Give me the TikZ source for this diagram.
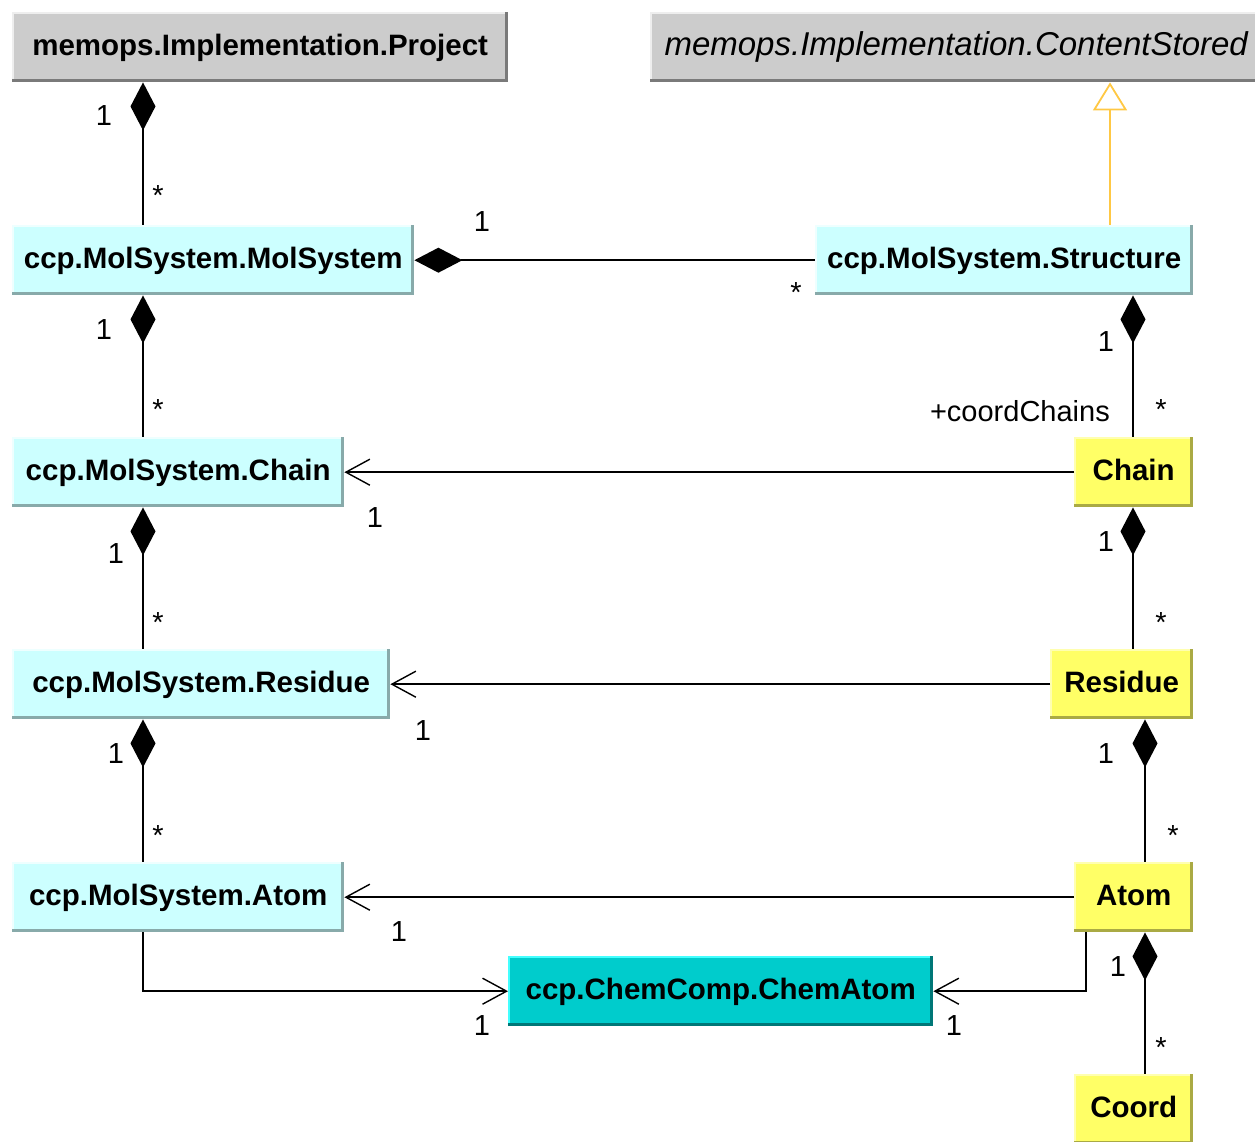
\documentclass[tikz,border=0pt]{standalone}
\usepackage{fontspec}
\setmainfont{Liberation Sans}
\usetikzlibrary{arrows.meta,calc}

\definecolor{grayfill}{HTML}{CCCCCC}
\definecolor{grayhi}{HTML}{EEEEEE}
\definecolor{graylo}{HTML}{7A7A7A}
\definecolor{cyanfill}{HTML}{CCFFFF}
\definecolor{cyanhi}{HTML}{EEFFFF}
\definecolor{cyanlo}{HTML}{88AAAA}
\definecolor{yelfill}{HTML}{FFFF66}
\definecolor{yelhi}{HTML}{FFFFB0}
\definecolor{yello}{HTML}{AAAA44}
\definecolor{tealfill}{HTML}{00CCCC}
\definecolor{tealhi}{HTML}{44FFFF}
\definecolor{teallo}{HTML}{007777}
\definecolor{inherit}{HTML}{FFC844}

% bevelled class box: highlight on top/left, shadow on bottom/right
\newcommand\bevelbox[3]{%
  \draw[#2, line width=2pt]
    ([shift={(1,0)}]#1.south west) -- ([shift={(1,1)}]#1.north west) -- ([shift={(0,1)}]#1.north east);
  \draw[#3, line width=3pt]
    ([shift={(0,-1.5)}]#1.south west) -- ([shift={(-1.5,-1.5)}]#1.south east) -- ([shift={(-1.5,0)}]#1.north east);
}

\tikzset{
  cls/.style={anchor=north west, inner sep=0pt, minimum height=70pt,
    text height=22pt, text depth=6pt, text=black,
    font=\fontsize{29.5}{36}\selectfont\bfseries},
  lbl/.style={anchor=base, inner sep=0pt, font=\fontsize{29}{34}\selectfont},
  conn/.style={line width=1.6pt, black},
  comp/.style={conn, {Diamond[length=48pt,width=25pt]}-},
  assoc/.style={conn, -{Straight Barb[length=24pt,width=26pt,line width=1.4pt]}},
  inh/.style={line width=1.8pt, inherit, {Triangle[open,length=28pt,width=34pt,fill=white]}-},
}

\begin{document}
\begin{tikzpicture}[x=1pt,y=-1pt]
\useasboundingbox (0,0) rectangle (1255,1142);

% class boxes
\node[cls, fill=grayfill, minimum width=496pt] (proj) at (12,12) {memops.Implementation.Project};
\node[cls, fill=grayfill, minimum width=612pt,
      font=\fontsize{33}{38}\selectfont\itshape] (cs) at (650,12) {memops.Implementation.ContentStored};

\node[cls, fill=cyanfill, minimum width=402pt] (ms) at (12,225) {ccp.MolSystem.MolSystem};
\node[cls, fill=cyanfill, minimum width=378pt] (st) at (815,225) {ccp.MolSystem.Structure};

\node[cls, fill=cyanfill, minimum width=332pt] (chL) at (12,437) {ccp.MolSystem.Chain};
\node[cls, fill=yelfill, minimum width=119pt] (chY) at (1074,437) {Chain};

\node[cls, fill=cyanfill, minimum width=378pt] (resL) at (12,649) {ccp.MolSystem.Residue};
\node[cls, fill=yelfill, minimum width=143pt] (resY) at (1050,649) {Residue};

\node[cls, fill=cyanfill, minimum width=332pt] (atL) at (12,862) {ccp.MolSystem.Atom};
\node[cls, fill=yelfill, minimum width=119pt] (atY) at (1074,862) {Atom};

\node[cls, fill=tealfill, minimum width=425pt] (chem) at (508,956) {ccp.ChemComp.ChemAtom};
\node[cls, fill=yelfill, minimum width=119pt] (coord) at (1074,1074) {Coord};

\bevelbox{proj}{grayhi}{graylo}
\bevelbox{cs}{grayhi}{graylo}
\bevelbox{ms}{cyanhi}{cyanlo}
\bevelbox{st}{cyanhi}{cyanlo}
\bevelbox{chL}{cyanhi}{cyanlo}
\bevelbox{resL}{cyanhi}{cyanlo}
\bevelbox{atL}{cyanhi}{cyanlo}
\bevelbox{chY}{yelhi}{yello}
\bevelbox{resY}{yelhi}{yello}
\bevelbox{atY}{yelhi}{yello}
\bevelbox{coord}{yelhi}{yello}
\bevelbox{chem}{tealhi}{teallo}

% connector columns
\coordinate (cL) at (143,0);
\coordinate (cInh) at (1110,0);
\coordinate (cR) at (1133,0);
\coordinate (cR2) at (1145,0);
\coordinate (cA) at (1086,0);

% composition links
\draw[comp] (proj.south -| cL) -- (ms.north -| cL);
\draw[comp] (ms.east) -- (st.west);
\draw[comp] (ms.south -| cL) -- (chL.north -| cL);
\draw[comp] (chL.south -| cL) -- (resL.north -| cL);
\draw[comp] (resL.south -| cL) -- (atL.north -| cL);
\draw[comp] (st.south -| cR) -- (chY.north -| cR);
\draw[comp] (chY.south -| cR) -- (resY.north -| cR);
\draw[comp] (resY.south -| cR2) -- (atY.north -| cR2);
\draw[comp] (atY.south -| cR2) -- (coord.north -| cR2);

% generalisation
\draw[inh] (cs.south -| cInh) -- (st.north -| cInh);

% navigable associations
\draw[assoc] (chY.west) -- (chL.east);
\draw[assoc] (resY.west) -- (resL.east);
\draw[assoc] (atY.west) -- (atL.east);
\draw[assoc] (atL.south -| cL) |- (chem.west);
\draw[assoc] (atY.south -| cA) |- (chem.east);

% multiplicities and role names
\node[lbl] (m1) at (104,126) {1};
\node[lbl] (m2) at (158,206) {*};
\node[lbl] (m3) at (482,232) {1};
\node[lbl] (m4) at (796,302) {*};
\node[lbl] (m5) at (104,339) {1};
\node[lbl] (m6) at (158,419) {*};
\node[lbl] (m7) at (1106,351) {1};
\node[lbl] (m8) at (1161,419) {*};
\node[lbl, anchor=base east] (role) at (1110,421) {+coordChains};
\node[lbl] (m9) at (375,527) {1};
\node[lbl] (m10) at (116,563) {1};
\node[lbl] (m11) at (158,632) {*};
\node[lbl] (m12) at (1106,551) {1};
\node[lbl] (m13) at (1161,632) {*};
\node[lbl] (m14) at (423,740) {1};
\node[lbl] (m15) at (116,763) {1};
\node[lbl] (m16) at (158,845) {*};
\node[lbl] (m17) at (1106,763) {1};
\node[lbl] (m18) at (1173,845) {*};
\node[lbl] (m19) at (399,941) {1};
\node[lbl] (m20) at (482,1035) {1};
\node[lbl] (m21) at (954,1035) {1};
\node[lbl] (m22) at (1118,976) {1};
\node[lbl] (m23) at (1161,1057) {*};
\end{tikzpicture}
\end{document}
